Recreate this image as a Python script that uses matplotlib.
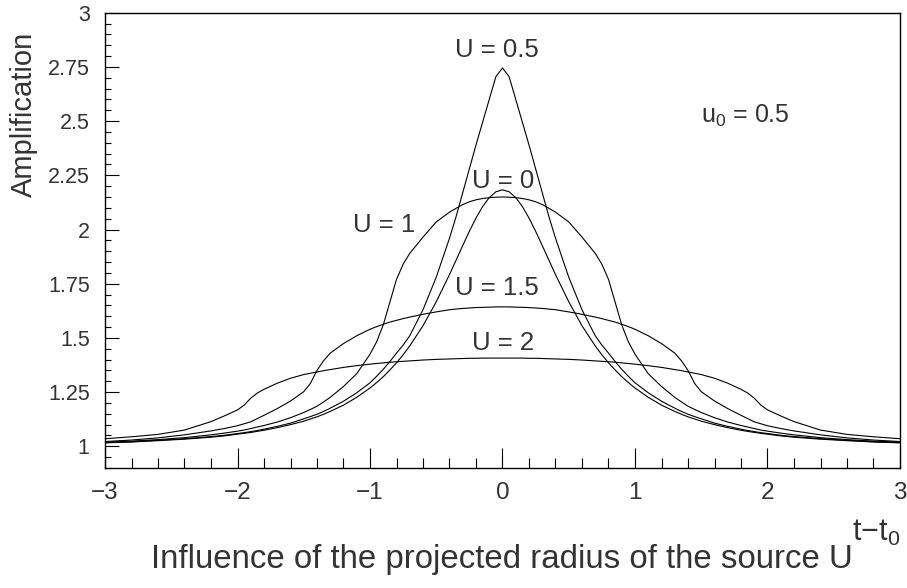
import matplotlib.pyplot as plt
from matplotlib.ticker import MultipleLocator, FuncFormatter

plt.rcParams['font.family'] = ['Liberation Sans', 'DejaVu Sans']
plt.rcParams['mathtext.fontset'] = 'custom'
plt.rcParams['mathtext.rm'] = 'Liberation Sans'
plt.rcParams['mathtext.it'] = 'Liberation Sans'

INK = '#333333'

# time from closest approach, in Einstein crossing times
t = [-3.0, -2.8, -2.6, -2.4, -2.2, -2.1, -2.0, -1.95, -1.9, -1.85, -1.8, -1.7, -1.6,
     -1.5, -1.45, -1.4, -1.35, -1.3, -1.2, -1.1, -1.0, -0.95, -0.9, -0.85, -0.8, -0.75,
     -0.7, -0.6, -0.5, -0.4, -0.35, -0.3, -0.25, -0.2, -0.15, -0.1, -0.05,
     0.0,
     0.05, 0.1, 0.15, 0.2, 0.25, 0.3, 0.35, 0.4, 0.5, 0.6, 0.7, 0.75, 0.8, 0.85, 0.9,
     0.95, 1.0, 1.1, 1.2, 1.3, 1.35, 1.4, 1.45, 1.5, 1.6, 1.7, 1.8, 1.85, 1.9, 1.95,
     2.0, 2.1, 2.2, 2.4, 2.6, 2.8, 3.0]

# amplification for each projected source radius U (impact parameter u0 = 0.5)
amp_U0 = [1.016, 1.020, 1.026, 1.033, 1.042, 1.048, 1.056, 1.060, 1.064, 1.069, 1.074,
          1.086, 1.100, 1.116, 1.126, 1.136, 1.148, 1.161, 1.190, 1.226, 1.269, 1.294,
          1.321, 1.352, 1.385, 1.422, 1.463, 1.556, 1.667, 1.792, 1.859, 1.926, 1.992,
          2.053, 2.106, 2.147, 2.174,
          2.183,
          2.174, 2.147, 2.106, 2.053, 1.992, 1.926, 1.859, 1.792, 1.667, 1.556, 1.463,
          1.422, 1.385, 1.352, 1.321, 1.294, 1.269, 1.226, 1.190, 1.161, 1.148, 1.136,
          1.126, 1.116, 1.100, 1.086, 1.074, 1.069, 1.064, 1.060, 1.056, 1.048, 1.042,
          1.033, 1.026, 1.020, 1.016]

amp_U05 = [1.017, 1.021, 1.028, 1.035, 1.045, 1.051, 1.059, 1.063, 1.068, 1.073, 1.079,
           1.092, 1.107, 1.127, 1.137, 1.148, 1.161, 1.176, 1.208, 1.247, 1.293, 1.323,
           1.355, 1.391, 1.430, 1.467, 1.510, 1.630, 1.780, 1.960, 2.060, 2.170, 2.280,
           2.390, 2.495, 2.600, 2.705,
           2.745,
           2.705, 2.600, 2.495, 2.390, 2.280, 2.170, 2.060, 1.960, 1.780, 1.630, 1.510,
           1.467, 1.430, 1.391, 1.355, 1.323, 1.293, 1.247, 1.208, 1.176, 1.161, 1.148,
           1.137, 1.127, 1.107, 1.092, 1.079, 1.073, 1.068, 1.063, 1.059, 1.051, 1.045,
           1.035, 1.028, 1.021, 1.017]

amp_U1 = [1.019, 1.024, 1.031, 1.040, 1.053, 1.061, 1.070, 1.075, 1.082, 1.089, 1.096,
          1.112, 1.132, 1.156, 1.170, 1.185, 1.205, 1.226, 1.276, 1.335, 1.425, 1.482,
          1.560, 1.665, 1.770, 1.840, 1.890, 1.965, 2.035, 2.080, 2.098, 2.115, 2.128,
          2.137, 2.143, 2.147, 2.149,
          2.150,
          2.149, 2.147, 2.143, 2.137, 2.128, 2.115, 2.098, 2.080, 2.035, 1.965, 1.890,
          1.840, 1.770, 1.665, 1.560, 1.482, 1.425, 1.335, 1.276, 1.226, 1.205, 1.185,
          1.170, 1.156, 1.132, 1.112, 1.096, 1.089, 1.082, 1.075, 1.070, 1.061, 1.053,
          1.040, 1.031, 1.024, 1.019]

amp_U15 = [1.022, 1.029, 1.039, 1.053, 1.071, 1.082, 1.095, 1.104, 1.113, 1.128, 1.143,
           1.174, 1.209, 1.252, 1.290, 1.350, 1.395, 1.430, 1.474, 1.510, 1.540, 1.552,
           1.563, 1.573, 1.581, 1.589, 1.596, 1.609, 1.620, 1.630, 1.633, 1.636, 1.638,
           1.640, 1.641, 1.642, 1.643,
           1.643,
           1.643, 1.642, 1.641, 1.640, 1.638, 1.636, 1.633, 1.630, 1.620, 1.609, 1.596,
           1.589, 1.581, 1.573, 1.563, 1.552, 1.540, 1.510, 1.474, 1.430, 1.395, 1.350,
           1.290, 1.252, 1.209, 1.174, 1.143, 1.128, 1.113, 1.104, 1.095, 1.082, 1.071,
           1.053, 1.039, 1.029, 1.022]

amp_U2 = [1.035, 1.044, 1.055, 1.075, 1.114, 1.140, 1.168, 1.190, 1.222, 1.246, 1.263,
          1.291, 1.314, 1.331, 1.337, 1.343, 1.349, 1.354, 1.364, 1.372, 1.379, 1.382,
          1.385, 1.388, 1.390, 1.392, 1.394, 1.398, 1.401, 1.403, 1.404, 1.405, 1.406,
          1.406, 1.407, 1.407, 1.407,
          1.407,
          1.407, 1.407, 1.407, 1.406, 1.406, 1.405, 1.404, 1.403, 1.401, 1.398, 1.394,
          1.392, 1.390, 1.388, 1.385, 1.382, 1.379, 1.372, 1.364, 1.354, 1.349, 1.343,
          1.337, 1.331, 1.314, 1.291, 1.263, 1.246, 1.222, 1.190, 1.168, 1.140, 1.114,
          1.075, 1.055, 1.044, 1.035]

curves = [amp_U0, amp_U05, amp_U1, amp_U15, amp_U2]

# label text, x centre and baseline in pixels
labels = ['U = 0.5', 'U = 0', 'U = 1', 'U = 1.5', 'U = 2']
label_x = [497, 503, 384, 497, 503]
label_y = [57, 188, 232, 295, 350]

W, H = 907, 588
fig = plt.figure(figsize=(W / 100, H / 100), dpi=100)
ax = fig.add_axes([105 / W, 1 - 468 / H, 795 / W, 455.3 / H])

for amp in curves:
    ax.plot(t, amp, color='black', lw=0.8)

ax.set_xlim(-3, 3)
ax.set_ylim(0.9, 3)
ax.xaxis.set_major_locator(MultipleLocator(1))
ax.xaxis.set_minor_locator(MultipleLocator(0.2))
ax.yaxis.set_major_locator(MultipleLocator(0.25))
ax.yaxis.set_minor_locator(MultipleLocator(0.05))
ax.yaxis.set_major_formatter(FuncFormatter(lambda v, p: f'{v:g}'))

ax.tick_params(which='both', direction='in', top=False, right=False,
               width=0.8, color='black')
ax.tick_params(axis='x', which='major', length=14.5, pad=10)
ax.tick_params(axis='x', which='minor', length=7.2)
ax.tick_params(axis='y', which='major', length=10, pad=11)
ax.tick_params(axis='y', which='minor', length=4.5)
for s in ax.spines.values():
    s.set_linewidth(1.0)

for lab in ax.get_yticklabels():
    lab.set_fontsize(15.5)
    lab.set_color(INK)
for lab in ax.get_xticklabels():
    lab.set_fontsize(17.5)
    lab.set_color(INK)

for txt, x, y in zip(labels, label_x, label_y):
    fig.text(x / W, 1 - y / H, txt, ha='center', va='baseline',
             fontsize=18.5, color=INK)

fig.text(745 / W, 1 - 123 / H, r'$\mathrm{u_0}$ = 0.5', ha='center', va='baseline',
         fontsize=18, color=INK)

fig.text(24 / W, 1 - 114 / H, 'Amplification', rotation=90, ha='center',
         va='center', fontsize=21, color=INK)
fig.text(900 / W, 1 - 541 / H, 't\u2212t$_0$', ha='right', va='baseline',
         fontsize=22, color=INK)
fig.text(502 / W, 1 - 568 / H, 'Influence of the projected radius of the source U',
         ha='center', va='baseline', fontsize=23.8, color=INK)

fig.savefig('out.png', dpi=100)
